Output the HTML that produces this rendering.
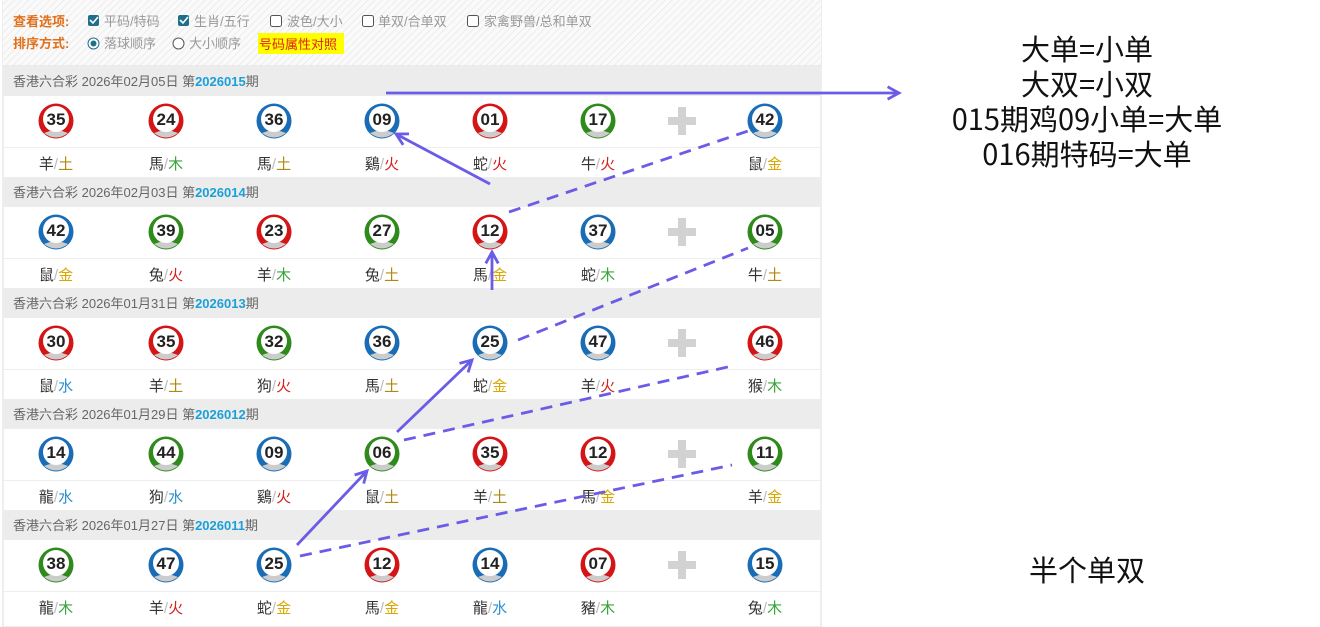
<!DOCTYPE html>
<html><head><meta charset="utf-8">
<style>
html,body{margin:0;padding:0;background:#fff;width:1320px;height:627px;overflow:hidden}
svg{display:block}
text{font-family:"Liberation Sans","Noto Sans CJK SC",sans-serif}
.n{font-weight:bold;font-size:17px;fill:#222;text-anchor:middle}
.z{font-size:15px;text-anchor:middle}
.h{font-size:13px;fill:#666}
.o{font-size:13px;fill:#999}
.big{font-size:29px;fill:#111;text-anchor:middle;font-family:"Noto Sans CJK SC","Liberation Sans",sans-serif}
</style></head><body>
<svg width="1320" height="627" xmlns="http://www.w3.org/2000/svg">
<defs>
<pattern id="hat" width="5" height="5" patternUnits="userSpaceOnUse" patternTransform="rotate(45)">
<rect width="5" height="5" fill="#fafafa"/><line x1="0" y1="0" x2="0" y2="5" stroke="#e4e4e4" stroke-width="1.2"/>
</pattern>
</defs>
<rect x="3" y="0" width="818" height="627" fill="#fff" stroke="#ddd"/>
<rect x="3" y="0" width="818" height="66" fill="url(#hat)"/>
<line x1="3" y1="66" x2="821" y2="66" stroke="#ddd"/>
<text x="13" y="26" style="font-size:13px;font-weight:bold;fill:#e0701a">查看选项:</text>
<rect x="88" y="15" width="11" height="11" rx="2" fill="#1f6f8b"/><path d="M90 20 l3 3 l5 -6" stroke="#fff" stroke-width="1.6" fill="none"/>
<text x="104" y="26" class="o">平码/特码</text>
<rect x="178" y="15" width="11" height="11" rx="2" fill="#1f6f8b"/><path d="M180 20 l3 3 l5 -6" stroke="#fff" stroke-width="1.6" fill="none"/>
<text x="194" y="26" class="o">生肖/五行</text>
<rect x="270.5" y="15.5" width="11" height="11" rx="2" fill="#fff" stroke="#555"/>
<text x="287" y="26" class="o">波色/大小</text>
<rect x="362.5" y="15.5" width="11" height="11" rx="2" fill="#fff" stroke="#555"/>
<text x="378" y="26" class="o">单双/合单双</text>
<rect x="467.5" y="15.5" width="11" height="11" rx="2" fill="#fff" stroke="#555"/>
<text x="484" y="26" class="o">家禽野兽/总和单双</text>
<text x="13" y="48" style="font-size:13px;font-weight:bold;fill:#e0701a">排序方式:</text>
<circle cx="93.5" cy="43.5" r="5.5" fill="#fff" stroke="#1f6f8b"/><circle cx="93.5" cy="43.5" r="3" fill="#1f6f8b"/>
<text x="104" y="48" class="o">落球顺序</text>
<circle cx="178.5" cy="43.5" r="5.5" fill="#fff" stroke="#555"/>
<text x="189" y="48" class="o">大小顺序</text>
<rect x="258" y="33" width="86" height="21" fill="#ffff00"/>
<text x="259" y="49" style="font-size:13px;fill:#e0201a">号码属性对照</text>

<g id="rows"></g>
</svg>
<script>
(function(){
var C={r:'#d41515',b:'#1a6db5',g:'#2f8a1c'};
var E={'金':'#d9a800','木':'#3aa43a','水':'#2a8fd0','火':'#d42020','土':'#b08a10'};
var xs=[56,166,274,382,490,598,765];
var data=[
['2026年02月05日','2026015',[['35','r','羊','土'],['24','r','馬','木'],['36','b','馬','土'],['09','b','鷄','火'],['01','r','蛇','火'],['17','g','牛','火'],['42','b','鼠','金']]],
['2026年02月03日','2026014',[['42','b','鼠','金'],['39','g','兔','火'],['23','r','羊','木'],['27','g','兔','土'],['12','r','馬','金'],['37','b','蛇','木'],['05','g','牛','土']]],
['2026年01月31日','2026013',[['30','r','鼠','水'],['35','r','羊','土'],['32','g','狗','火'],['36','b','馬','土'],['25','b','蛇','金'],['47','b','羊','火'],['46','r','猴','木']]],
['2026年01月29日','2026012',[['14','b','龍','水'],['44','g','狗','水'],['09','b','鷄','火'],['06','g','鼠','土'],['35','r','羊','土'],['12','r','馬','金'],['11','g','羊','金']]],
['2026年01月27日','2026011',[['38','g','龍','木'],['47','b','羊','火'],['25','b','蛇','金'],['12','r','馬','金'],['14','b','龍','水'],['07','r','豬','木'],['15','b','兔','木']]]
];
var s='';
data.forEach(function(d,i){
 var t=66+111*i;
 s+='<rect x="4" y="'+t+'" width="816" height="30" fill="#ececec"/>';
 s+='<text x="13" y="'+(t+20)+'" class="h">香港六合彩 '+d[0]+' 第<tspan style="fill:#1aa0d8;font-weight:bold">'+d[1]+'</tspan>期</text>';
 s+='<line x1="4" y1="'+(t+81.5)+'" x2="820" y2="'+(t+81.5)+'" stroke="#eee"/>';
 var cy=t+55;
 s+='<rect x="668" y="'+(cy-4)+'" width="28" height="8" fill="#d2d2d2"/><rect x="678" y="'+(cy-14)+'" width="8" height="28" fill="#d2d2d2"/>';
 d[2].forEach(function(b,j){
  var x=xs[j],c=C[b[1]];
  s+='<circle cx="'+x+'" cy="'+cy+'" r="17.5" fill="'+c+'"/>';
  s+='<path d="M'+(x-12)+' '+(cy+12)+' Q'+x+' '+(cy+21)+' '+(x+12)+' '+(cy+12)+' L'+x+' '+(cy+8)+'Z" fill="#ccc"/>';
  s+='<circle cx="'+x+'" cy="'+(cy-2)+'" r="13" fill="#fff"/>';
  s+='<text x="'+x+'" y="'+(cy+4)+'" class="n">'+b[0]+'</text>';
  s+='<text x="'+x+'" y="'+(t+103)+'" class="z"><tspan fill="#333">'+b[2]+'</tspan><tspan fill="#bbb">/</tspan><tspan fill="'+E[b[3]]+'">'+b[3]+'</tspan></text>';
 });
});
var P='#6b5ce7';
function line(x1,y1,x2,y2,dash){s+='<line x1="'+x1+'" y1="'+y1+'" x2="'+x2+'" y2="'+y2+'" stroke="'+P+'" stroke-width="2.8"'+(dash?' stroke-dasharray="12,8"':'')+'/>';}
function arrow(x1,y1,x2,y2){line(x1,y1,x2,y2);var a=Math.atan2(y2-y1,x2-x1),L=13,w=0.5;
 s+='<polyline points="'+(x2-L*Math.cos(a-w))+','+(y2-L*Math.sin(a-w))+' '+x2+','+y2+' '+(x2-L*Math.cos(a+w))+','+(y2-L*Math.sin(a+w))+'" fill="none" stroke="'+P+'" stroke-width="2.8"/>';}
arrow(386,93,899,93);
arrow(490,184,396,134);
arrow(492,290,492,252);
arrow(397,432,472,360);
arrow(297,545,367,471);
line(509,212,748,131,1);
line(518,340,748,248,1);
line(404,440,732,366,1);
line(300,556,732,465,1);
s+='<text x="1087" y="60" class="big">大单=小单</text>';
s+='<text x="1087" y="95" class="big">大双=小双</text>';
s+='<text x="1087" y="130" class="big">015期鸡09小单=大单</text>';
s+='<text x="1087" y="165" class="big">016期特码=大单</text>';
s+='<text x="1087" y="581" class="big">半个单双</text>';
document.getElementById('rows').innerHTML=s;
})();
</script>
</body></html>
